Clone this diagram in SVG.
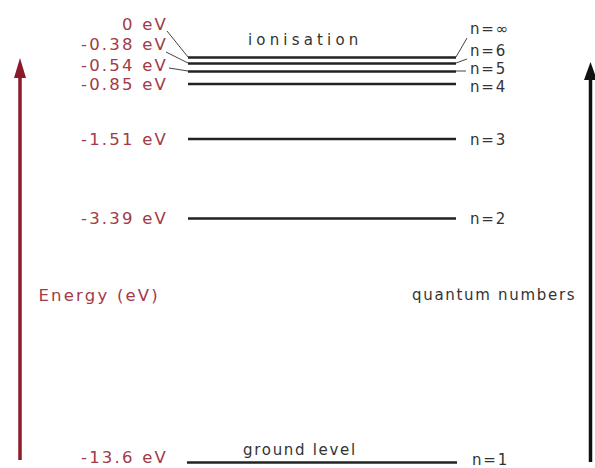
<svg xmlns="http://www.w3.org/2000/svg" width="595" height="468" viewBox="0 0 595 468">
<style>
.ev{font-family:"DejaVu Sans",sans-serif;font-size:16.5px;fill:#a23a48;letter-spacing:2.2px;text-anchor:end}
.n{font-family:"DejaVu Sans",sans-serif;font-size:15px;fill:#333;letter-spacing:1.8px}
.t{font-family:"DejaVu Sans",sans-serif;font-size:15px;fill:#333;letter-spacing:1.7px}
.lvl{stroke:#222;stroke-width:2.6;fill:none}
.thin{stroke:#444;stroke-width:1;fill:none}
</style>
<rect width="595" height="468" fill="#fff"/>
<g id="connectors">
<line x1="20" y1="460" x2="20" y2="76" stroke="#8b1a2a" stroke-width="3.5"/>
<path d="M20,58 L26,78 L14,78 Z" fill="#8b1a2a"/>
<line x1="590.5" y1="462" x2="590.5" y2="78" stroke="#111" stroke-width="3.5"/>
<path d="M590.5,62 L597,80 L584,80 Z" fill="#111"/>
<path class="thin" d="M167,31 L188,57"/>
<path class="thin" d="M166,52 L188,63"/>
<path class="thin" d="M169,68 L188,71"/>
<path class="thin" d="M456,57 L467,38"/>
<path class="thin" d="M456,63 L467,59"/>
<path class="thin" d="M456,71 L466,71"/>
</g>
<g id="level-inf"><line class="lvl" x1="188" y1="57.5" x2="456" y2="57.5"/><text class="ev" x="168" y="30">0 eV</text><text class="n" x="470" y="34">n=∞</text></g>
<g id="level-6"><line class="lvl" x1="188" y1="63.5" x2="456" y2="63.5"/><text class="ev" x="168" y="50">-0.38 eV</text><text class="n" x="470" y="56">n=6</text></g>
<g id="level-5"><line class="lvl" x1="188" y1="71.5" x2="456" y2="71.5"/><text class="ev" x="168" y="71">-0.54 eV</text><text class="n" x="470" y="74">n=5</text></g>
<g id="level-4"><line class="lvl" x1="188" y1="84" x2="456" y2="84"/><text class="ev" x="168" y="90">-0.85 eV</text><text class="n" x="470" y="92">n=4</text></g>
<g id="level-3"><line class="lvl" x1="188" y1="139" x2="456" y2="139"/><text class="ev" x="168" y="145">-1.51 eV</text><text class="n" x="470" y="145">n=3</text></g>
<g id="level-2"><line class="lvl" x1="188" y1="218.5" x2="456" y2="218.5"/><text class="ev" x="168" y="224">-3.39 eV</text><text class="n" x="470" y="224">n=2</text></g>
<g id="level-1"><line class="lvl" x1="187" y1="462.5" x2="457" y2="462.5"/><text class="ev" x="168" y="463">-13.6 eV</text><text class="n" x="472" y="465">n=1</text></g>
<g id="labels">
<text class="t" x="248" y="45" textLength="112">ionisation</text>
<text class="t" x="243" y="455">ground level</text>
<text class="t" x="412" y="300">quantum numbers</text>
<text class="ev" x="160" y="301">Energy (eV)</text>
</g>
</svg>
